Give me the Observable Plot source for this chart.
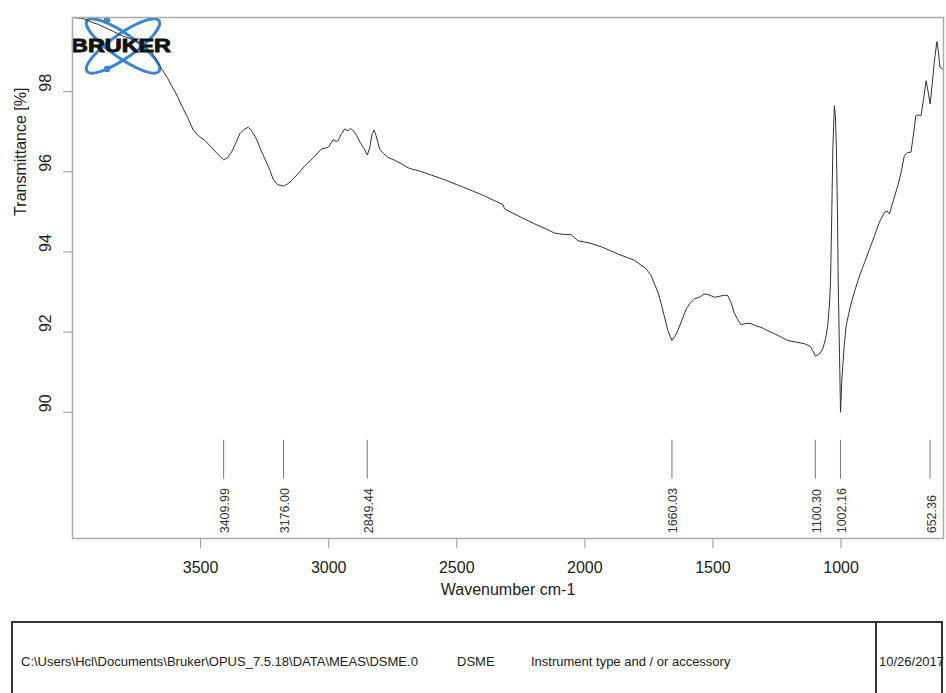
<!DOCTYPE html>
<html>
<head>
<meta charset="utf-8">
<script src="https://cdn.jsdelivr.net/npm/d3@7"></script>
<script src="https://cdn.jsdelivr.net/npm/@observablehq/plot@0.6"></script>
<style>
  html, body { margin: 0; padding: 0; background: #fff; width: 946px; height: 693px; overflow: hidden; }
  #wrap { position: relative; width: 946px; height: 693px; font-family: "Liberation Sans", Arial, sans-serif; }
  #logo { position: absolute; left: 0; top: 0; z-index: 0; }
  #chart { position: absolute; left: 0; top: 0; z-index: 1; }
  #info { position: absolute; left: 11px; top: 621px; width: 932px; height: 90px; border: 2px solid #333; box-sizing: border-box; font-size: 13px; color: #222; }
  #info span { position: absolute; top: 31px; white-space: nowrap; }
  #info .div { position: absolute; left: 862px; top: 0; bottom: 0; border-left: 2px solid #333; }
</style>
</head>
<body>
<div id="wrap">
  <svg id="logo" width="200" height="90" viewBox="0 0 200 90">
    <g fill="none" stroke="#3a85d4" stroke-width="3">
      <ellipse cx="123" cy="46" rx="44" ry="12" transform="rotate(35 123 46)"/>
      <ellipse cx="123" cy="46" rx="44" ry="12" transform="rotate(-35 123 46)"/>
    </g>
    <circle cx="107" cy="20" r="3.2" fill="#3a85d4"/>
    <circle cx="107" cy="69" r="3.2" fill="#3a85d4"/>
    <text x="71" y="52" font-family="Liberation Sans, Arial, sans-serif" font-weight="bold" font-size="18" textLength="100" lengthAdjust="spacingAndGlyphs" fill="#111" stroke="#111" stroke-width="0.9">BRUKER</text>
  </svg>
  <div id="chart"></div>
  <div id="info">
    <span style="left:8px">C:\Users\Hcl\Documents\Bruker\OPUS_7.5.18\DATA\MEAS\DSME.0</span>
    <span style="left:444px">DSME</span>
    <span style="left:518px">Instrument type and / or accessory</span>
    <div class="div"></div>
    <span style="left:866px">10/26/2017</span>
  </div>
</div>
<script>
// Wavenumber (cm-1), descending
const wavenumber = [
  4000, 3964, 3940, 3925, 3900, 3874, 3840, 3808, 3775, 3742, 3715, 3691, 3670, 3652, 3630, 3613,
  3590, 3574, 3550, 3528, 3505, 3483, 3457, 3435, 3410, 3395, 3379, 3360, 3347, 3330, 3314, 3300,
  3282, 3265, 3249, 3230, 3217, 3200, 3176, 3160, 3145, 3120, 3093, 3060, 3028, 3002, 2990, 2983,
  2970, 2963, 2950, 2937, 2925, 2915, 2904, 2890, 2878, 2862, 2849, 2840, 2830, 2823, 2815, 2801,
  2785, 2768, 2740, 2716, 2690, 2677, 2651, 2600, 2547, 2500, 2456, 2400, 2339, 2320, 2313, 2260,
  2196, 2150, 2118, 2085, 2053, 2027, 1980, 1936, 1871, 1806, 1761, 1740, 1728, 1715, 1702, 1690,
  1676, 1660, 1648, 1637, 1620, 1604, 1590, 1572, 1550, 1535, 1520, 1505, 1494, 1470, 1455, 1442,
  1430, 1416, 1400, 1390, 1370, 1351, 1330, 1312, 1285, 1260, 1235, 1208, 1175, 1143, 1125, 1117,
  1100, 1085, 1071, 1060, 1052, 1045, 1041, 1036, 1032, 1026, 1022, 1018, 1014, 1011, 1006, 1002,
  997, 993, 987, 980, 965, 948, 928, 908, 890, 869, 850, 830, 820, 811, 795, 778,
  765, 753, 740, 727, 718, 708, 700, 688, 678, 668, 660, 652, 644, 636, 626, 620,
  614, 605, 600
];
// Transmittance (%)
const transmittance = [
  99.85, 99.83, 99.78, 99.73, 99.68, 99.60, 99.50, 99.40, 99.32, 99.23, 99.12, 98.98, 98.78, 98.57, 98.35, 98.15,
  97.88, 97.65, 97.35, 97.03, 96.88, 96.78, 96.61, 96.45, 96.30, 96.35, 96.49, 96.75, 96.95, 97.06, 97.11, 97.02,
  96.82, 96.55, 96.32, 96.05, 95.82, 95.68, 95.64, 95.70, 95.78, 95.95, 96.15, 96.35, 96.57, 96.61, 96.72, 96.80,
  96.76, 96.78, 96.95, 97.07, 97.02, 97.08, 97.03, 96.90, 96.74, 96.58, 96.42, 96.60, 96.95, 97.04, 96.90, 96.57,
  96.45, 96.36, 96.28, 96.20, 96.10, 96.07, 96.03, 95.92, 95.80, 95.68, 95.57, 95.42, 95.24, 95.18, 95.07, 94.90,
  94.70, 94.57, 94.47, 94.44, 94.43, 94.28, 94.22, 94.13, 93.95, 93.79, 93.58, 93.40, 93.20, 93.00, 92.71, 92.40,
  92.04, 91.79, 91.90, 92.04, 92.32, 92.58, 92.72, 92.83, 92.88, 92.95, 92.94, 92.90, 92.87, 92.90, 92.92, 92.91,
  92.75, 92.46, 92.28, 92.18, 92.22, 92.21, 92.15, 92.12, 92.03, 91.96, 91.88, 91.79, 91.75, 91.71, 91.66, 91.62,
  91.40, 91.45, 91.58, 91.85, 92.16, 92.70, 93.24, 95.00, 96.57, 97.65, 97.40, 96.57, 95.00, 93.24, 91.50, 90.00,
  90.80, 91.17, 91.70, 92.16, 92.60, 93.00, 93.40, 93.74, 94.05, 94.41, 94.75, 94.99, 95.02, 94.95, 95.30, 95.66,
  96.00, 96.40, 96.48, 96.49, 96.90, 97.40, 97.42, 97.40, 97.80, 98.27, 98.00, 97.69, 98.20, 98.73, 99.25, 99.00,
  98.61, 98.57, 98.57
];
const peaks = [3409.99, 3176.00, 2849.44, 1660.03, 1100.30, 1002.16, 652.36];
const xTicks = [3500, 3000, 2500, 2000, 1500, 1000];
const yTicks = [90, 92, 94, 96, 98];

const spectrum = wavenumber.map((w, i) => ({w, t: transmittance[i]}));

const chart = Plot.plot({
  width: 946,
  height: 610,
  marginTop: 17,
  marginBottom: 72,
  marginLeft: 72,
  marginRight: 3,
  x: {domain: [4000, 600]},
  y: {domain: [86.85, 99.85]},
  style: {background: "transparent", fontFamily: "'Liberation Sans', Arial, sans-serif", color: "#222"},
  marks: [
    Plot.axisX({ticks: xTicks, tickSize: 10, tickPadding: 13, stroke: "#999", fill: "#222", fontSize: 16, tickFormat: d => String(d), label: null}),
    Plot.axisY({ticks: yTicks, tickSize: 9, stroke: "#999", tickFormat: () => "", label: null}),
    Plot.text(yTicks, {y: d => d, frameAnchor: "left", dx: -27, rotate: -90, text: d => String(d), fontSize: 16, fill: "#222"}),
    Plot.text(["Transmittance [%]"], {frameAnchor: "left", y: 94.9, dx: -52, rotate: -90, fontSize: 16, fill: "#222"}),
    Plot.text(["Wavenumber cm-1"], {frameAnchor: "bottom", dy: 56, fontSize: 16, fill: "#222"}),
    Plot.ruleX(peaks, {x: d => d, y1: 89.3, y2: 88.33, stroke: "#777", strokeWidth: 1}),
    Plot.text(peaks, {x: d => d, y: 86.98, text: d => d.toFixed(2), rotate: -90, textAnchor: "start", dx: 1.5, fontSize: 12.5, fill: "#333"}),
    Plot.line(spectrum, {x: "w", y: "t", stroke: "#333", strokeWidth: 1}),
    Plot.frame({stroke: "#aaa", strokeWidth: 1.5})
  ]
});
document.getElementById("chart").appendChild(chart);
</script>
</body>
</html>
